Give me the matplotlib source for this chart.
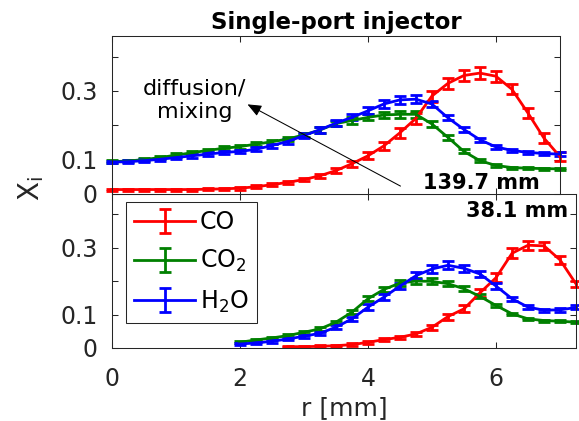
import matplotlib
matplotlib.use('Agg')
import matplotlib.pyplot as plt

plt.rcParams['font.family'] = ['DejaVu Sans']
plt.rcParams['mathtext.default'] = 'regular'

# species colours and labels
species = ['CO', 'CO$_2$', 'H$_2$O']
colours = ['#ff0000', '#008000', '#0000ff']

# 139.7 mm downstream (upper panel)
r_top = [0.0, 0.25, 0.5, 0.75, 1.0, 1.25, 1.5, 1.75, 2.0, 2.25, 2.5, 2.75, 3.0, 3.25,
         3.5, 3.75, 4.0, 4.25, 4.5, 4.75, 5.0, 5.25, 5.5, 5.75, 6.0, 6.25, 6.5, 6.75, 7.0]
co_top = [0.013, 0.013, 0.013, 0.013, 0.013, 0.013, 0.014, 0.015, 0.017, 0.021, 0.027, 0.034,
          0.042, 0.053, 0.068, 0.088, 0.111, 0.140, 0.178, 0.220, 0.285, 0.322, 0.345, 0.352,
          0.343, 0.305, 0.236, 0.163, 0.109]
co_top_err = [0.003, 0.003, 0.003, 0.003, 0.003, 0.003, 0.003, 0.003, 0.004, 0.004, 0.004, 0.005,
              0.005, 0.006, 0.007, 0.008, 0.010, 0.012, 0.014, 0.015, 0.016, 0.017, 0.017, 0.017,
              0.016, 0.015, 0.014, 0.014, 0.012]
co2_top = [0.094, 0.096, 0.100, 0.106, 0.113, 0.120, 0.127, 0.133, 0.138, 0.145, 0.152, 0.160,
           0.172, 0.186, 0.205, 0.214, 0.223, 0.230, 0.232, 0.232, 0.204, 0.165, 0.124, 0.097,
           0.083, 0.077, 0.075, 0.074, 0.073]
co2_top_err = [0.004, 0.004, 0.004, 0.005, 0.005, 0.005, 0.005, 0.006, 0.006, 0.006, 0.006, 0.007,
               0.007, 0.008, 0.008, 0.009, 0.009, 0.010, 0.010, 0.010, 0.009, 0.007, 0.006, 0.004,
               0.003, 0.003, 0.003, 0.003, 0.003]
h2o_top = [0.093, 0.094, 0.097, 0.101, 0.106, 0.111, 0.116, 0.121, 0.124, 0.130, 0.141, 0.153,
           0.170, 0.187, 0.206, 0.223, 0.242, 0.262, 0.274, 0.276, 0.262, 0.222, 0.188, 0.158,
           0.137, 0.127, 0.121, 0.118, 0.116]
h2o_top_err = [0.004, 0.004, 0.004, 0.004, 0.004, 0.005, 0.005, 0.005, 0.005, 0.006, 0.006, 0.007,
               0.007, 0.008, 0.008, 0.009, 0.010, 0.011, 0.012, 0.012, 0.010, 0.008, 0.007, 0.006,
               0.005, 0.005, 0.005, 0.005, 0.006]

# 38.1 mm downstream (lower panel)
r_bot = [2.0, 2.25, 2.5, 2.75, 3.0, 3.25, 3.5, 3.75, 4.0, 4.25, 4.5, 4.75, 5.0, 5.25,
         5.5, 5.75, 6.0, 6.25, 6.5, 6.75, 7.0, 7.25]
r_bot_co = [2.75, 3.0, 3.25, 3.5, 3.75, 4.0, 4.25, 4.5, 4.75, 5.0, 5.25,
            5.5, 5.75, 6.0, 6.25, 6.5, 6.75, 7.0, 7.25]
co_bot = [0.004, 0.004, 0.005, 0.007, 0.010, 0.017, 0.025, 0.032, 0.042, 0.062, 0.094,
          0.117, 0.165, 0.210, 0.283, 0.307, 0.305, 0.263, 0.191]
co_bot_err = [0.002, 0.002, 0.003, 0.003, 0.004, 0.004, 0.005, 0.005, 0.006, 0.007, 0.009,
              0.010, 0.012, 0.013, 0.015, 0.014, 0.013, 0.012, 0.010]
co2_bot = [0.017, 0.024, 0.030, 0.037, 0.047, 0.057, 0.077, 0.107, 0.147, 0.175, 0.194,
           0.200, 0.199, 0.192, 0.177, 0.154, 0.127, 0.102, 0.087, 0.082, 0.080, 0.077]
co2_bot_err = [0.003, 0.003, 0.003, 0.004, 0.004, 0.005, 0.005, 0.006, 0.007, 0.008, 0.009,
               0.009, 0.009, 0.008, 0.007, 0.006, 0.005, 0.004, 0.003, 0.003, 0.003, 0.003]
h2o_bot = [0.012, 0.015, 0.020, 0.027, 0.035, 0.044, 0.062, 0.087, 0.122, 0.152, 0.185,
           0.216, 0.236, 0.247, 0.238, 0.221, 0.185, 0.147, 0.122, 0.113, 0.114, 0.121]
h2o_bot_err = [0.003, 0.003, 0.004, 0.004, 0.005, 0.005, 0.006, 0.007, 0.008, 0.009, 0.010,
               0.011, 0.012, 0.012, 0.011, 0.010, 0.008, 0.006, 0.005, 0.004, 0.005, 0.006]

yticks = [0, 0.1, 0.2, 0.3, 0.4]
ytick_labels = ['0', '0.1', '', '0.3', '']
xticks = [0, 2, 4, 6]

axcol = '0.15'


def style(ax):
    ax.set_ylim(0, 0.46)
    ax.set_yticks(yticks)
    ax.set_yticklabels(ytick_labels)
    ax.set_xticks(xticks)
    ax.tick_params(direction='in', top=True, right=True, length=4, width=0.75,
                   colors=axcol, labelsize=17)
    ax.tick_params(axis='y', pad=10)
    ax.tick_params(axis='x', pad=14)
    for s in ax.spines.values():
        s.set_color(axcol)
        s.set_linewidth(0.75)


def draw(ax, r, y, e, c, label=None):
    ax.errorbar(r, y, yerr=e, color=c, lw=2.0, elinewidth=2.0, capsize=4.5,
                capthick=2.0, label=label, clip_on=False)


fig = plt.figure(figsize=(5.79, 4.21), dpi=100)
ax2 = fig.add_axes([0.193, 0.1734, 0.802, 0.3658])
ax1 = fig.add_axes([0.193, 0.5392, 0.774, 0.3753])

# upper panel
draw(ax1, r_top, co_top, co_top_err, colours[0])
draw(ax1, r_top, co2_top, co2_top_err, colours[1])
draw(ax1, r_top, h2o_top, h2o_top_err, colours[2])
ax1.set_xlim(0, 7)
style(ax1)
ax1.set_xticklabels([])
ax1.set_title('Single-port injector', fontsize=16.5, fontweight='bold', pad=5)
ax1.text(6.68, 0.015, '139.7 mm', fontsize=15, fontweight='bold', ha='right', va='baseline')
ax1.text(1.29, 0.273, 'diffusion/\nmixing', fontsize=16, ha='center', va='center',
         linespacing=1.2)
ax1.annotate('', xy=(2.12, 0.261), xytext=(4.51, 0.023),
             arrowprops=dict(arrowstyle='-|>,head_length=0.6,head_width=0.25', color='k',
                             lw=0.75, shrinkA=0, shrinkB=0, mutation_scale=14))

# lower panel
draw(ax2, r_bot_co, co_bot, co_bot_err, colours[0], species[0])
draw(ax2, r_bot, co2_bot, co2_bot_err, colours[1], species[1])
draw(ax2, r_bot, h2o_bot, h2o_bot_err, colours[2], species[2])
ax2.set_xlim(0, 7.25)
style(ax2)
ax2.set_xlabel('r [mm]', fontsize=18, color=axcol, labelpad=3)
ax2.text(0.983, 0.85, '38.1 mm', transform=ax2.transAxes, fontsize=15, fontweight='bold',
         ha='right', va='baseline')
leg = ax2.legend(loc='upper left', bbox_to_anchor=(0.03, 0.95), borderaxespad=0,
                 fontsize=17, handlelength=2.6, labelspacing=0.6, handletextpad=0.2,
                 borderpad=0.35, fancybox=False, framealpha=1)
leg.get_frame().set_edgecolor(axcol)
leg.get_frame().set_linewidth(0.75)

fig.text(0.054, 0.551, 'X$_i$', fontsize=20, rotation=90, ha='center', va='center',
         color=axcol)

fig.savefig('out.png', dpi=100)
